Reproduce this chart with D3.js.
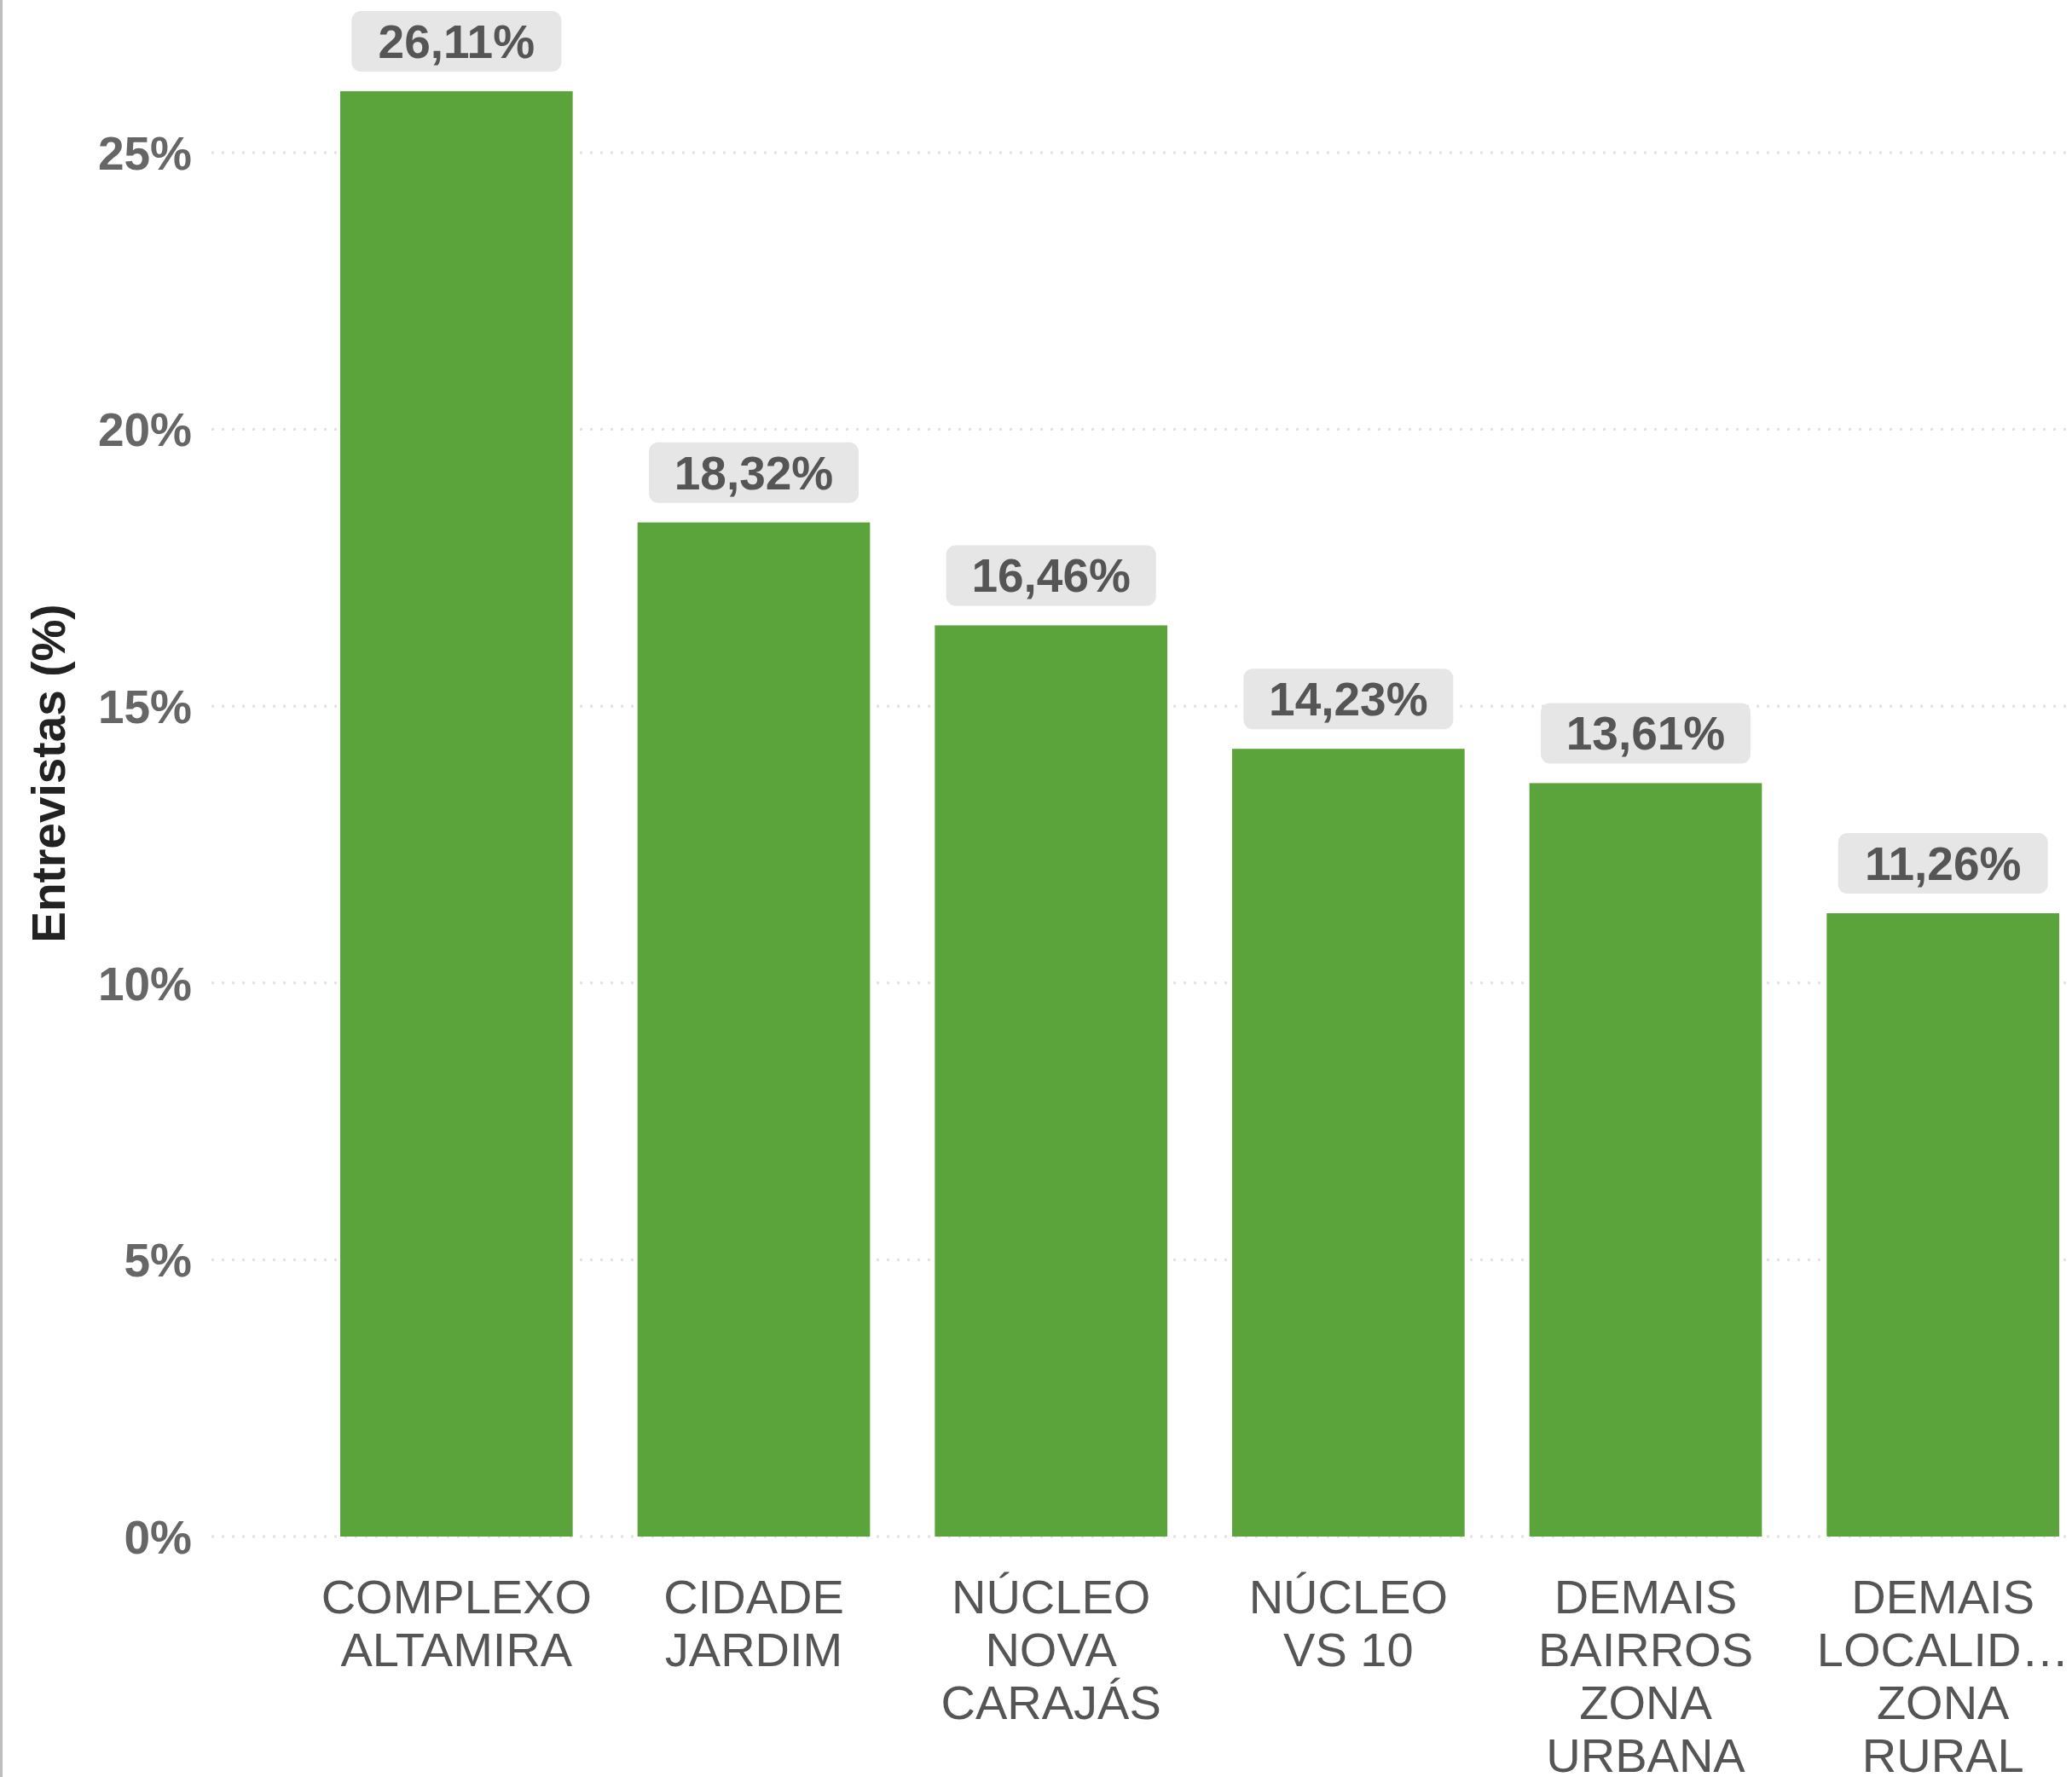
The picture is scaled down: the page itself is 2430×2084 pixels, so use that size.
<!DOCTYPE html>
<html>
<head>
<meta charset="utf-8">
<script src="https://cdn.jsdelivr.net/npm/d3@7"></script>
<style>
  html, body { margin: 0; padding: 0; background: #fff; }
  svg { display: block; }
</style>
</head>
<body>
<svg id="chart" width="2430" height="2084"></svg>
<script>
const categories = [
  ["COMPLEXO", "ALTAMIRA"],
  ["CIDADE", "JARDIM"],
  ["NÚCLEO", "NOVA", "CARAJÁS"],
  ["NÚCLEO", "VS 10"],
  ["DEMAIS", "BAIRROS", "ZONA", "URBANA"],
  ["DEMAIS", "LOCALID…", "ZONA", "RURAL"]
];
const values = [26.11, 18.32, 16.46, 14.23, 13.61, 11.26];
const yTicks = [0, 5, 10, 15, 20, 25];
const yTitle = "Entrevistas (%)";

const W = 2430, H = 2084;
const FONT = "'Liberation Sans', Arial, Helvetica, sans-serif";
const svg = d3.select("#chart");

const keys = categories.map((c, i) => i);
const x = d3.scaleBand().domain(keys).range([361, 2453]).paddingInner(0.218).paddingOuter(0.109);
const y = d3.scaleLinear().domain([0, 25]).range([1802, 179]);

// left border line
svg.append("line").attr("x1", 1.5).attr("x2", 1.5).attr("y1", 0).attr("y2", H)
  .attr("stroke", "#bdbdbd").attr("stroke-width", 3);

// gridlines
svg.append("g").selectAll("line").data(yTicks).join("line")
  .attr("x1", 248).attr("x2", W)
  .attr("y1", d => y(d)).attr("y2", d => y(d))
  .attr("stroke", "#e2e2e2").attr("stroke-width", 3)
  .attr("stroke-dasharray", "3,9");

// y axis via d3.axisLeft
const yAxis = d3.axisLeft(y).tickValues(yTicks).tickSize(0).tickPadding(0)
  .tickFormat(d => d + "%");
const gy = svg.append("g").attr("transform", "translate(225,0)").call(yAxis);
gy.select(".domain").remove();
gy.selectAll("text")
  .attr("font-family", FONT).attr("font-size", 55).attr("font-weight", "bold")
  .attr("fill", "#666").attr("dy", "0.35em").attr("text-anchor", "end");

// y title
svg.append("text")
  .attr("transform", "translate(57,907) rotate(-90)")
  .attr("text-anchor", "middle").attr("dominant-baseline", "central")
  .attr("font-family", FONT).attr("font-size", 55).attr("font-weight", "bold")
  .attr("fill", "#222").text(yTitle);

// bars
svg.append("g").selectAll("rect").data(values).join("rect")
  .attr("x", (d, i) => x(i)).attr("width", x.bandwidth())
  .attr("y", d => y(d)).attr("height", d => y(0) - y(d))
  .attr("fill", "#5ba33b");

// value labels
const fmt = v => v.toFixed(2).replace(".", ",") + "%";
const lab = svg.append("g").selectAll("g").data(values).join("g")
  .attr("transform", (d, i) => `translate(${x(i) + x.bandwidth() / 2},${y(d) - 22})`);
lab.append("rect")
  .attr("x", -123).attr("width", 246).attr("y", -72).attr("height", 71)
  .attr("rx", 11).attr("fill", "#e6e6e6");
lab.append("text")
  .attr("y", -36).attr("dominant-baseline", "central").attr("text-anchor", "middle")
  .attr("font-family", FONT).attr("font-size", 55).attr("font-weight", "bold")
  .attr("fill", "#555").text(d => fmt(d));

// x labels
const xl = svg.append("g").selectAll("text").data(categories).join("text")
  .attr("text-anchor", "middle")
  .attr("font-family", FONT).attr("font-size", 56).attr("fill", "#555")
  .attr("transform", (d, i) => `translate(${x(i) + x.bandwidth() / 2},0)`);
xl.selectAll("tspan").data(d => d).join("tspan")
  .attr("x", 0).attr("y", (d, j) => 1892 + j * 62).text(d => d);
</script>
</body>
</html>
